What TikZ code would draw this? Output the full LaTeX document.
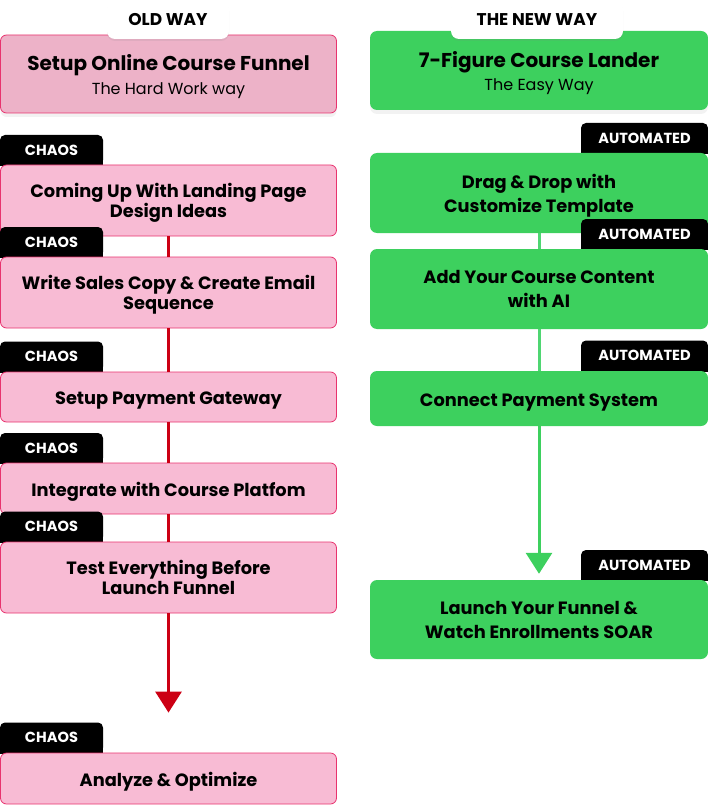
\documentclass[tikz,border=0pt]{standalone}
\usepackage{fontspec}
\setmainfont{Poppins}
\usetikzlibrary{arrows.meta,shadows}
\definecolor{pink1}{HTML}{F8BBD4}
\definecolor{pink2}{HTML}{EDB2C8}
\definecolor{pinkline}{HTML}{E8336E}
\definecolor{green1}{HTML}{3DD05E}
\definecolor{green2}{HTML}{4FD672}
\definecolor{red1}{HTML}{CC0014}

\tikzset{
  oldbox/.style={draw=pinkline, line width=0.8pt, fill=pink1, rounded corners=6pt,
    minimum width=336pt, inner sep=0pt, align=center,
    execute at begin node=\rule{0pt}{20pt},
    font=\bfseries\fontsize{17.8}{20.5}\selectfont},
  newbox/.style={fill=green1, rounded corners=7pt, minimum width=338pt,
    inner sep=0pt, align=center, execute at begin node=\rule{0pt}{20pt},
    font=\bfseries\fontsize{17.8}{24}\selectfont},
  twolines/.style={text depth=0pt},
  tagbox/.style={fill=black, text=white, rounded corners=5pt, minimum height=30pt,
    inner sep=0pt, font=\bfseries\fontsize{14.6}{16}\selectfont},
  waylabel/.style={fill=white, rounded corners=8pt, minimum height=38pt, inner sep=0pt,
    font=\bfseries\fontsize{17}{18}\selectfont,
    drop shadow={opacity=0.12, shadow xshift=0pt, shadow yshift=-2pt}},
}

\begin{document}
\begin{tikzpicture}[x=1pt,y=-1pt]
\useasboundingbox (0,0) rectangle (708,805);

% old way
\node[oldbox, twolines, fill=pink2, minimum height=78pt, font=\bfseries\fontsize{20}{24}\selectfont,
  drop shadow={opacity=0.10, shadow xshift=0pt, shadow yshift=-4pt}] (oldtitle) at (168.5,74)
  {Setup Online Course Funnel\\{\mdseries\fontsize{16}{20}\selectfont The Hard Work way}};
\node[waylabel, minimum width=122pt] (oldlabel) at (168,20) {OLD WAY};

\fill (0,150) rectangle (103,166);
\node[tagbox, minimum width=103pt] (t1) at (51.5,150) {CHAOS};
\node[oldbox, twolines, minimum height=71pt] (b1) at (168.5,200.5) {Coming Up With Landing Page\\Design Ideas};

\fill (0,242) rectangle (103,258);
\node[tagbox, minimum width=103pt] (t2) at (51.5,242) {CHAOS};
\node[oldbox, twolines, minimum height=71pt] (b2) at (168.5,292.5) {Write Sales Copy \& Create Email\\Sequence};

\fill (0,356) rectangle (103,373);
\node[tagbox, minimum width=103pt] (t3) at (51.5,356.5) {CHAOS};
\node[oldbox, minimum height=50pt] (b3) at (168.5,397) {Setup Payment Gateway};

\fill (0,448) rectangle (103,464);
\node[tagbox, minimum width=103pt] (t4) at (51.5,448) {CHAOS};
\node[oldbox, minimum height=51pt] (b4) at (168.5,488.5) {Integrate with Course Platfom};

\fill (0,526) rectangle (103,543);
\node[tagbox, minimum width=103pt] (t5) at (51.5,526.5) {CHAOS};
\node[oldbox, twolines, minimum height=71pt] (b5) at (168.5,577.5) {Test Everything Before\\Launch Funnel};

\fill (0,737) rectangle (103,754);
\node[tagbox, minimum width=103pt] (t6) at (51.5,737.5) {CHAOS};
\node[oldbox, minimum height=51pt] (b6) at (168.5,778.5) {Analyze \& Optimize};

\draw[red1, line width=3pt] (b1) -- (b2);
\draw[red1, line width=3pt] (b2) -- (b3);
\draw[red1, line width=3pt] (b3) -- (b4);
\draw[red1, line width=3pt] (b4) -- (b5);
\draw[red1, line width=3pt, -{Triangle[width=26pt,length=21pt]}, shorten >=40pt] (b5) -- (b6);

% new way
\node[newbox, twolines, minimum height=79pt, font=\bfseries\fontsize{20}{23}\selectfont,
  drop shadow={opacity=0.10, shadow xshift=0pt, shadow yshift=-4pt}] (newtitle) at (539,70.5)
  {7-Figure Course Lander\\{\mdseries\fontsize{16}{20}\selectfont The Easy Way}};
\node[waylabel, minimum width=172pt] (newlabel) at (537,20) {THE NEW WAY};

\fill (581,138) rectangle (708,154);
\node[tagbox, minimum width=127pt] (a1) at (644.5,138) {AUTOMATED};
\node[newbox, twolines, minimum height=80pt] (g1) at (539,193) {Drag \& Drop with\\Customize Template};

\fill (581,234) rectangle (708,250);
\node[tagbox, minimum width=127pt] (a2) at (644.5,234) {AUTOMATED};
\node[newbox, twolines, minimum height=80pt] (g2) at (539,289) {Add Your Course Content\\with AI};

\fill (581,355) rectangle (708,372);
\node[tagbox, minimum width=127pt] (a3) at (644.5,355.5) {AUTOMATED};
\node[newbox, minimum height=55pt] (g3) at (539,398.5) {Connect Payment System};

\fill (581,565) rectangle (708,581);
\node[tagbox, minimum width=127pt] (a4) at (644.5,565) {AUTOMATED};
\node[newbox, twolines, minimum height=79pt] (g4) at (539,619.5) {Launch Your Funnel \&\\Watch Enrollments SOAR};

\draw[green2, line width=3pt] (g1) -- (g2);
\draw[green2, line width=3pt] (g2) -- (g3);
\draw[green1, line width=3pt, -{Triangle[width=26pt,length=21pt]}, shorten >=6pt] (g3) -- (g4);
\end{tikzpicture}
\end{document}
